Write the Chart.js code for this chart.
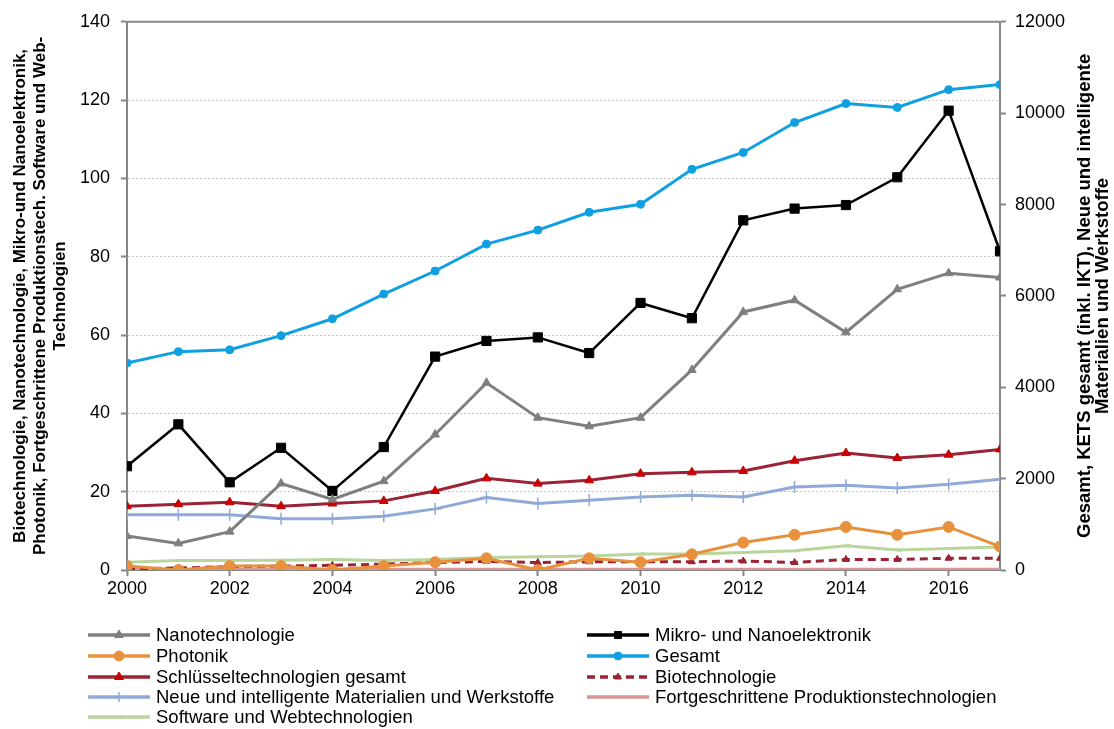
<!DOCTYPE html>
<html>
<head>
<meta charset="utf-8">
<script src="https://cdn.jsdelivr.net/npm/chart.js@4/dist/chart.umd.min.js"></script>
<style>
  html, body { margin: 0; padding: 0; background: #fff; }
  #wrap { position: relative; width: 1114px; height: 729px; }
</style>
</head>
<body>
<div id="wrap"><canvas id="chart" width="1114" height="729"></canvas></div>
<script>
/* ── data ── */
const years = [2000, 2001, 2002, 2003, 2004, 2005, 2006, 2007, 2008, 2009, 2010, 2011, 2012, 2013, 2014, 2015, 2016, 2017];

// left axis (Anzahl, kleine Technologiefelder)
const nanotech   = [8.7, 6.8, 9.8, 22.1, 18.0, 22.7, 34.6, 47.8, 38.9, 36.7, 38.9, 51.1, 65.9, 68.9, 60.7, 71.7, 75.8, 74.7];
const mikroNano  = [26.5, 37.2, 22.4, 31.2, 20.2, 31.4, 54.5, 58.5, 59.4, 55.4, 68.2, 64.3, 89.3, 92.3, 93.2, 100.3, 117.3, 81.4];
const photonik   = [1, 0, 1, 1, 0, 1, 2, 3, 0, 3, 2, 4, 7, 9, 11, 9, 11, 6];
const biotech    = [0.3, 0.5, 0.9, 1.0, 1.2, 1.5, 1.9, 2.2, 1.9, 2.1, 2.1, 2.1, 2.3, 1.9, 2.7, 2.7, 3.0, 3.0];
const produktion = [0.2, 0.2, 0.2, 0.2, 0.2, 0.2, 0.2, 0.2, 0.2, 0.2, 0.2, 0.2, 0.2, 0.2, 0.2, 0.2, 0.2, 0.2];
const software   = [2.0, 2.4, 2.4, 2.5, 2.7, 2.4, 2.7, 3.2, 3.4, 3.6, 4.1, 4.1, 4.5, 4.9, 6.2, 5.1, 5.5, 5.9];

// right axis
const gesamt      = [4530, 4780, 4820, 5130, 5500, 6040, 6545, 7135, 7440, 7830, 8005, 8770, 9140, 9795, 10210, 10125, 10515, 10625];
const ketsGesamt  = [1396, 1440, 1484, 1396, 1455, 1513, 1731, 2007, 1891, 1964, 2109, 2138, 2167, 2393, 2560, 2451, 2524, 2640];
const materialien = [1207, 1207, 1207, 1120, 1120, 1178, 1338, 1585, 1455, 1527, 1600, 1636, 1600, 1818, 1855, 1796, 1876, 1985];

const leftTitle  = ['Biotechnologie, Nanotechnologie, Mikro-und Nanoelektronik,',
                    'Photonik, Fortgeschrittene Produktionstech. Software und Web-',
                    'Technologien'];
const rightTitle = ['Gesamt, KETS gesamt (inkl. IKT), Neue und intelligente',
                    'Materialien und Werkstoffe'];

const FONT = "'Liberation Sans', Arial, sans-serif";
const AXIS = '#868686';
const GRID = '#c4c4c4';

const pts = arr => years.map((y, i) => ({ x: y, y: arr[i] }));

function series(label, data, axis, color, style) {
  return Object.assign({
    label,
    data: pts(data),
    yAxisID: axis,
    borderColor: color,
    backgroundColor: color,
    pointBackgroundColor: color,
    pointBorderColor: color,
    borderWidth: 3,
    pointRadius: 4,
    pointBorderWidth: 1,
    pointStyle: 'circle',
    tension: 0,
    fill: false,
  }, style || {});
}

const datasets = [
  series('Nanotechnologie', nanotech, 'y', '#7f7f7f', { pointStyle: 'triangle', pointRadius: 5 }),
  series('Mikro- und Nanoelektronik', mikroNano, 'y', '#000000', { pointStyle: 'rect', pointRadius: 6.5, borderWidth: 2.5 }),
  series('Photonik', photonik, 'y', '#e8913c', { pointRadius: 5.5 }),
  series('Gesamt', gesamt, 'y1', '#0ea0e0', { pointRadius: 4 }),
  series('Schlüsseltechnologien gesamt', ketsGesamt, 'y1', '#9b2335', {
    pointStyle: 'triangle', pointRadius: 5,
    pointBackgroundColor: '#d00000', pointBorderColor: '#c00000'
  }),
  series('Biotechnologie', biotech, 'y', '#9b2335', { pointStyle: 'triangle', pointRadius: 4, borderDash: [8, 5] }),
  series('Neue und intelligente Materialien und Werkstoffe', materialien, 'y1', '#90aad8', {
    pointStyle: 'cross', pointRadius: 6, pointBorderWidth: 1.5
  }),
  series('Fortgeschrittene Produktionstechnologien', produktion, 'y', '#d99694', { pointStyle: 'dash', pointRadius: 3, pointBorderWidth: 2 }),
  series('Software und Webtechnologien', software, 'y', '#b9d59c', { pointStyle: 'dash', pointRadius: 5, pointBorderWidth: 3 }),
];

/* ── plugin: top frame line, right title, two-column legend ── */
const legendCols = [88, 587];
const legendRows = [635, 656, 677, 697, 717];

const extras = {
  id: 'extras',
  afterDraw(chart) {
    const { ctx, chartArea } = chart;
    ctx.save();
    // top frame
    ctx.strokeStyle = AXIS;
    ctx.lineWidth = 2;
    ctx.beginPath();
    ctx.moveTo(chartArea.left, chartArea.top);
    ctx.lineTo(chartArea.right, chartArea.top);
    ctx.stroke();

    // right axis title, reading bottom-to-top
    ctx.fillStyle = '#000';
    ctx.font = 'bold 18.5px ' + FONT;
    ctx.textAlign = 'center';
    ctx.textBaseline = 'middle';
    const cy = (chartArea.top + chartArea.bottom) / 2;
    [1085, 1103].forEach((x, i) => {
      ctx.save();
      ctx.translate(x, cy);
      ctx.rotate(-Math.PI / 2);
      ctx.fillText(rightTitle[i], 0, 0);
      ctx.restore();
    });

    // legend
    ctx.font = '18.5px ' + FONT;
    ctx.textAlign = 'left';
    chart.data.datasets.forEach((ds, i) => {
      const x0 = legendCols[i % 2];
      const y = legendRows[Math.floor(i / 2)];
      const len = 62;
      ctx.save();
      ctx.strokeStyle = ds.borderColor;
      ctx.lineWidth = 3.5;
      ctx.setLineDash(ds.borderDash || []);
      ctx.beginPath();
      ctx.moveTo(x0, y);
      ctx.lineTo(x0 + len, y);
      ctx.stroke();
      ctx.setLineDash([]);
      ctx.fillStyle = ds.pointBackgroundColor;
      ctx.strokeStyle = ds.pointBorderColor;
      ctx.lineWidth = ds.pointBorderWidth;
      Chart.helpers.drawPoint(ctx, {
        pointStyle: ds.pointStyle,
        radius: Math.min(ds.pointRadius, 5),
        borderWidth: ds.pointBorderWidth,
        rotation: 0
      }, x0 + len / 2, y);
      ctx.restore();
      ctx.fillStyle = '#000';
      ctx.fillText(ds.label, x0 + len + 6, y + 1);
    });
    ctx.restore();
  }
};

new Chart(document.getElementById('chart'), {
  type: 'line',
  data: { datasets },
  plugins: [extras],
  options: {
    responsive: false,
    animation: false,
    layout: { padding: { top: 20, bottom: 124, left: 0, right: 0 } },
    plugins: { legend: { display: false }, tooltip: { enabled: false } },
    scales: {
      x: {
        type: 'linear',
        min: 2000, max: 2017,
        afterFit: s => { s.height = 35; },
        grid: { drawOnChartArea: false, tickLength: 6, tickColor: AXIS, tickWidth: 2 },
        border: { color: AXIS, width: 2 },
        ticks: {
          stepSize: 2, includeBounds: false, padding: 2,
          color: '#000', font: { family: FONT, size: 18 },
          callback: v => String(v)
        }
      },
      y: {
        position: 'left',
        min: 0, max: 140,
        afterFit: s => { s.width = 127; },
        grid: { color: GRID, lineWidth: 1, tickLength: 6, tickColor: AXIS, tickWidth: 2 },
        border: { color: AXIS, width: 2, dash: [2, 2] },
        ticks: { stepSize: 20, padding: 11, color: '#000', font: { family: FONT, size: 18 } },
        title: {
          display: true,
          text: leftTitle,
          color: '#000',
          font: { family: FONT, size: 17, weight: 'bold', lineHeight: 1.18 },
          padding: { top: 10, bottom: 0 }
        }
      },
      y1: {
        position: 'right',
        min: 0, max: 12000,
        afterFit: s => { s.width = 114; },
        grid: { drawOnChartArea: false, tickLength: 6, tickColor: AXIS, tickWidth: 2 },
        border: { color: AXIS, width: 2 },
        ticks: {
          stepSize: 2000, padding: 9, color: '#000', font: { family: FONT, size: 18 },
          callback: v => String(v)
        }
      }
    }
  }
});
</script>
</body>
</html>
